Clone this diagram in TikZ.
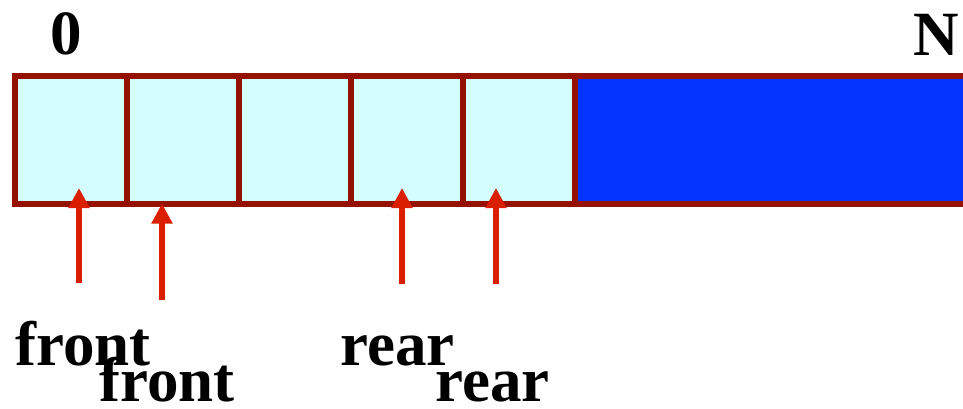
\documentclass[tikz,border=0pt]{standalone}
\usepackage{fontspec}
\setmainfont{Liberation Serif}
\usetikzlibrary{arrows.meta,calc}
\definecolor{frame}{HTML}{961200}
\definecolor{slot}{HTML}{D4FDFD}
\definecolor{freearea}{HTML}{0433FF}
\definecolor{pointer}{HTML}{DA1E00}
\begin{document}
\begin{tikzpicture}[x=1pt,y=-1pt,
  cell/.style={draw=frame,fill=slot,line width=6pt,minimum width=112pt,
    minimum height=127.5pt,inner sep=0pt,outer sep=0pt},
  spare/.style={draw=frame,fill=freearea,line width=6pt,minimum width=400pt,
    minimum height=127.5pt,inner sep=0pt,outer sep=0pt},
  ptr/.style={draw=pointer,line width=6pt,-{Triangle[width=20pt,length=20pt]}},
  lbl/.style={inner sep=0pt,font=\fontsize{63}{63}\selectfont\bfseries}]
\useasboundingbox (0,0) rectangle (963,408);
% unused part of the array, running past the right edge
\node[spare,anchor=west] (rest) at (575,139.75) {};
% occupied slots
\node[cell] (c1) at (71,139.75) {};
\node[cell] (c2) at (183,139.75) {};
\node[cell] (c3) at (295,139.75) {};
\node[cell] (c4) at (407,139.75) {};
\node[cell] (c5) at (519,139.75) {};
% index labels
\node[lbl,anchor=base] (lo) at (66,54) {0};
\node[lbl,anchor=base west] (hi) at (913,55) {N};
% pointer labels
\node[lbl,anchor=base west] (f1) at (15,365) {front};
\node[lbl,anchor=base west] (f2) at (99,401) {front};
\node[lbl,anchor=base west] (r1) at (340,365) {rear};
\node[lbl,anchor=base west] (r2) at (435,401) {rear};
% pointer tails
\coordinate (t1) at (79,283);
\coordinate (t2) at (162,300);
\coordinate (t3) at (402,284);
\coordinate (t4) at (496,284);
% pointers
\draw[ptr] (t1) -- ($(c1.south)+(8,-15.5)$);
\draw[ptr] (t2) -- ($(c2.south)+(-21,0)$);
\draw[ptr] (t3) -- ($(c4.south)+(-5,-15.5)$);
\draw[ptr] (t4) -- ($(c5.south)+(-23,-15.5)$);
\end{tikzpicture}
\end{document}
